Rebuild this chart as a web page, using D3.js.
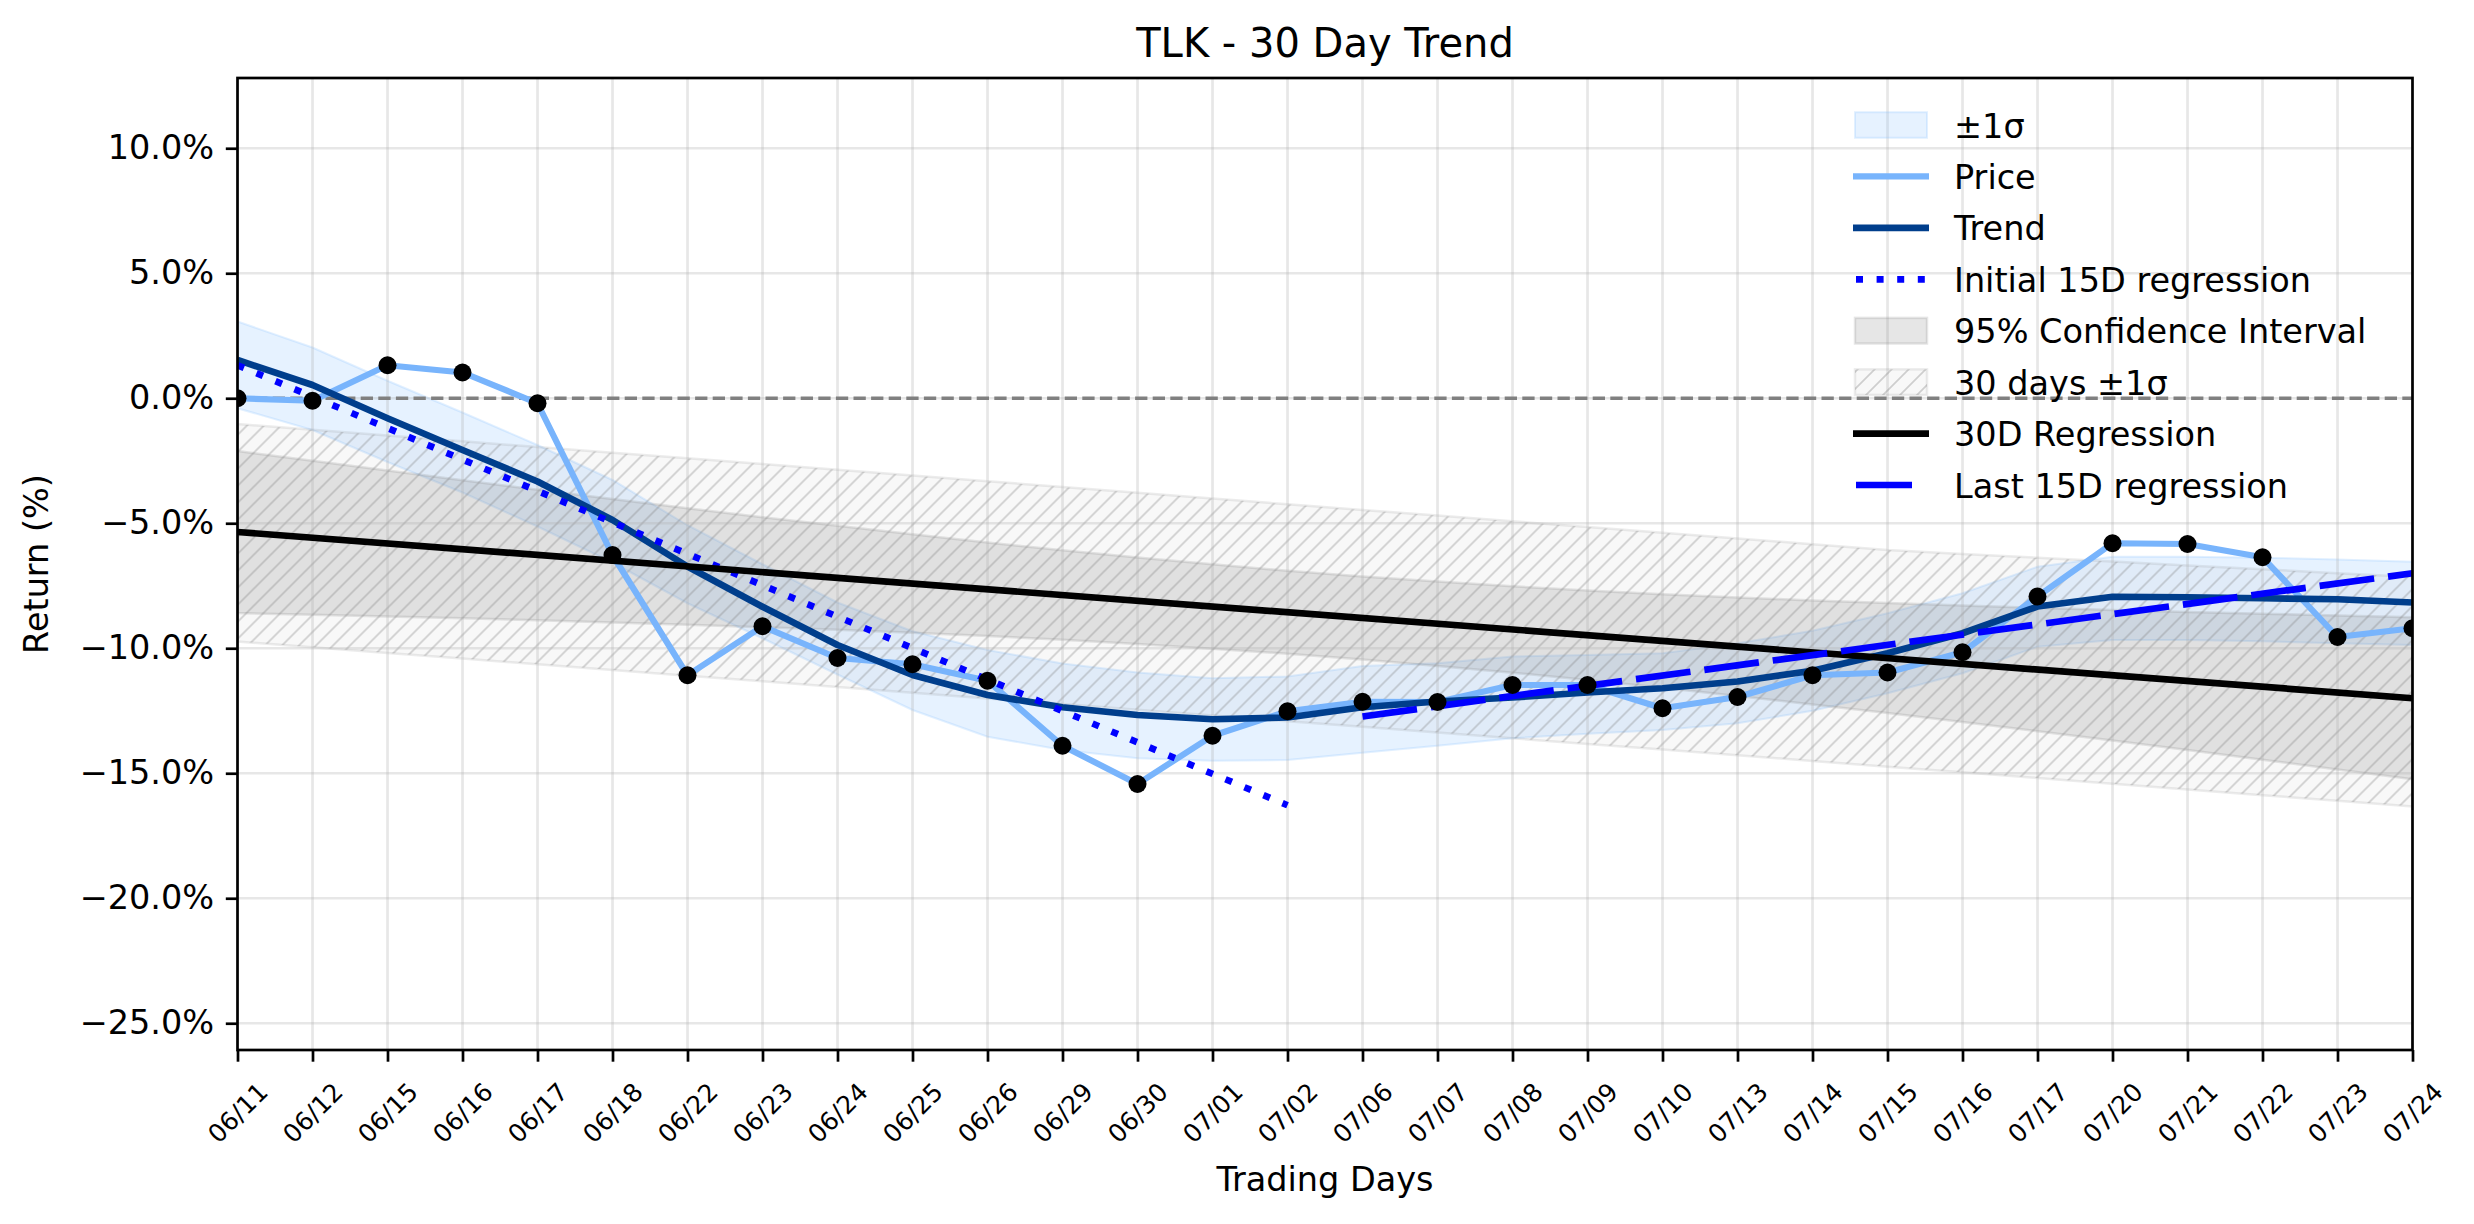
<!DOCTYPE html>
<html lang="en">
<head>
<meta charset="UTF-8">
<title>TLK - 30 Day Trend</title>
<script src="https://d3js.org/d3.v7.min.js"></script>
<style>
  body { margin: 0; background: #ffffff; }
  svg text { font-family: "DejaVu Sans", sans-serif; fill: #000; }
</style>
</head>
<body>
<div id="chart"></div>
<script>
// trading days (x axis)
var dates = ["06/11", "06/12", "06/15", "06/16", "06/17", "06/18", "06/22", "06/23", "06/24", "06/25",
             "06/26", "06/29", "06/30", "07/01", "07/02", "07/06", "07/07", "07/08", "07/09", "07/10",
             "07/13", "07/14", "07/15", "07/16", "07/17", "07/20", "07/21", "07/22", "07/23", "07/24"];

// cumulative return in %
var price = [0.0, -0.1, 1.32, 1.03, -0.2, -6.27, -11.08, -9.12, -10.39, -10.64,
             -11.3, -13.9, -15.43, -13.5, -12.52, -12.14, -12.15, -11.47, -11.47, -12.4,
             -11.95, -11.08, -10.97, -10.16, -7.93, -5.8, -5.83, -6.36, -9.55, -9.2];

var trend = [1.53, 0.53, -0.8, -2.07, -3.33, -4.87, -6.73, -8.34, -9.87, -11.07,
             -11.87, -12.36, -12.67, -12.84, -12.77, -12.36, -12.13, -11.97, -11.77, -11.6,
             -11.33, -10.9, -10.2, -9.4, -8.33, -7.94, -7.96, -8.0, -8.04, -8.17];

// +-1 sigma band around the trend
var sigmaUpper = [3.07, 2.03, 0.7, -0.57, -1.87, -3.27, -5.08, -6.64, -8.17, -9.32,
                  -10.07, -10.61, -10.97, -11.2, -11.13, -10.71, -10.6, -10.33, -10.27, -10.2,
                  -9.8, -9.3, -8.6, -7.8, -6.74, -6.34, -6.34, -6.38, -6.45, -6.54];
var sigmaLower = [-0.4, -1.27, -2.55, -3.77, -5.13, -6.57, -8.2, -9.6, -11.05, -12.47,
                  -13.54, -14.07, -14.4, -14.5, -14.47, -14.18, -13.9, -13.6, -13.42, -13.27,
                  -13.0, -12.5, -11.8, -11.0, -9.94, -9.67, -9.67, -9.72, -9.8, -9.87];

// 95% confidence interval of the 30D regression
var ciUpper = [-2.11, -2.5, -2.89, -3.28, -3.66, -4.03, -4.4, -4.76, -5.1, -5.44,
               -5.77, -6.08, -6.37, -6.64, -6.9, -7.13, -7.33, -7.52, -7.69, -7.84,
               -7.97, -8.09, -8.19, -8.29, -8.38, -8.47, -8.55, -8.62, -8.69, -8.76];
var ciLower = [-8.59, -8.66, -8.73, -8.8, -8.88, -8.97, -9.06, -9.16, -9.26, -9.38,
               -9.51, -9.66, -9.83, -10.02, -10.22, -10.45, -10.71, -10.98, -11.27, -11.58,
               -11.91, -12.25, -12.59, -12.95, -13.32, -13.69, -14.07, -14.46, -14.85, -15.24];

// 30 days +-1 sigma (hatched)
var band30Upper = [-1.03, -1.26, -1.49, -1.72, -1.95, -2.18, -2.4, -2.63, -2.86, -3.09,
                   -3.32, -3.55, -3.78, -4.01, -4.24, -4.47, -4.69, -4.92, -5.15, -5.38,
                   -5.61, -5.84, -6.07, -6.23, -6.38, -6.53, -6.69, -6.84, -7.0, -7.15];
var band30Lower = [-9.73, -9.96, -10.19, -10.41, -10.64, -10.87, -11.1, -11.32, -11.55, -11.78,
                   -12.01, -12.23, -12.46, -12.69, -12.92, -13.14, -13.37, -13.6, -13.83, -14.05,
                   -14.28, -14.51, -14.74, -14.96, -15.19, -15.42, -15.65, -15.88, -16.1, -16.33];

// straight regressions: [start, end]
var regression30 = [-5.35, -12.0];   // 06/11 -> 07/24
var initial15 = [1.32, -16.28];      // 06/11 -> 07/02
var last15 = [-12.73, -7.0];         // 07/06 -> 07/24

var yTicks = [-25, -20, -15, -10, -5, 0, 5, 10];

var priceColor = "#78b4fc",
    trendColor = "#003e8c",
    bandColor = "#8cc4ff";

var W = 2474, H = 1224;
var margin = {top: 78, right: 61.5, bottom: 174, left: 237.5},
    width = W - margin.left - margin.right,
    height = H - margin.top - margin.bottom;

var svg = d3.select("#chart").append("svg")
    .attr("width", W).attr("height", H);

var defs = svg.append("defs");
defs.append("clipPath").attr("id", "plotclip")
  .append("rect").attr("width", width).attr("height", height);
var hatch = defs.append("pattern").attr("id", "hatch")
    .attr("patternUnits", "userSpaceOnUse").attr("width", 17).attr("height", 17);
hatch.append("path")
    .attr("d", "M0,17 L17,0 M-4.25,4.25 L4.25,-4.25 M12.75,21.25 L21.25,12.75")
    .attr("stroke", "#808080").attr("stroke-opacity", 0.35).attr("stroke-width", 1.8);

var g = svg.append("g")
    .attr("transform", "translate(" + margin.left + "," + margin.top + ")");

var x = d3.scalePoint().domain(dates).range([0, width]);
var y = d3.scaleLinear().domain([-26.07, 12.81]).range([height, 0]);

var plot = g.append("g").attr("clip-path", "url(#plotclip)");

function band(up, lo) {
  return d3.area()
    .x(function(d, i) { return x(dates[i]); })
    .y0(function(d, i) { return y(lo[i]); })
    .y1(function(d, i) { return y(up[i]); })(dates);
}

// +-1 sigma
plot.append("path").attr("d", band(sigmaUpper, sigmaLower))
    .attr("fill", bandColor).attr("fill-opacity", 0.22)
    .attr("stroke", bandColor).attr("stroke-opacity", 0.25).attr("stroke-width", 2);
// 95% CI
plot.append("path").attr("d", band(ciUpper, ciLower))
    .attr("fill", "gray").attr("fill-opacity", 0.2)
    .attr("stroke", "gray").attr("stroke-opacity", 0.2).attr("stroke-width", 2.5);
// 30 days +-1 sigma, hatched
plot.append("path").attr("d", band(band30Upper, band30Lower))
    .attr("fill", "gray").attr("fill-opacity", 0.06);
plot.append("path").attr("d", band(band30Upper, band30Lower))
    .attr("fill", "url(#hatch)")
    .attr("stroke", "gray").attr("stroke-opacity", 0.15).attr("stroke-width", 2.5);

// grid
plot.append("g").selectAll("line").data(dates).enter().append("line")
    .attr("x1", function(d) { return x(d); }).attr("x2", function(d) { return x(d); })
    .attr("y1", 0).attr("y2", height)
    .attr("stroke", "#b0b0b0").attr("stroke-opacity", 0.3).attr("stroke-width", 2.7);
plot.append("g").selectAll("line").data(yTicks).enter().append("line")
    .attr("x1", 0).attr("x2", width)
    .attr("y1", function(d) { return y(d); }).attr("y2", function(d) { return y(d); })
    .attr("stroke", "#b0b0b0").attr("stroke-opacity", 0.3).attr("stroke-width", 2.7);

// zero line
plot.append("line").attr("x1", 0).attr("x2", width).attr("y1", y(0)).attr("y2", y(0))
    .attr("stroke", "#808080").attr("stroke-width", 3.3).attr("stroke-dasharray", "12.3,5.3");

var line = d3.line()
    .x(function(d, i) { return x(dates[i]); })
    .y(function(d) { return y(d); });

plot.append("path").attr("d", line(price)).attr("fill", "none")
    .attr("stroke", priceColor).attr("stroke-width", 6.2).attr("stroke-linejoin", "round");
plot.append("path").attr("d", line(trend)).attr("fill", "none")
    .attr("stroke", trendColor).attr("stroke-width", 6.7).attr("stroke-linejoin", "round");

function segment(vals, i0, i1) {
  return d3.line().x(function(d) { return x(d[0]); }).y(function(d) { return y(d[1]); })
    ([[dates[i0], vals[0]], [dates[i1], vals[1]]]);
}

plot.append("path").attr("d", segment(initial15, 0, 14)).attr("fill", "none")
    .attr("stroke", "#0000ff").attr("stroke-width", 6.7).attr("stroke-dasharray", "7,13.6");
plot.append("path").attr("d", segment(regression30, 0, dates.length - 1)).attr("fill", "none")
    .attr("stroke", "#000").attr("stroke-width", 6.7);
plot.append("path").attr("d", segment(last15, 15, dates.length - 1)).attr("fill", "none")
    .attr("stroke", "#0000ff").attr("stroke-width", 6.7).attr("stroke-dasharray", "55,14");

plot.append("g").selectAll("circle").data(price).enter().append("circle")
    .attr("cx", function(d, i) { return x(dates[i]); })
    .attr("cy", function(d) { return y(d); })
    .attr("r", 9).attr("fill", "#000");

// axes
var fmt = function(d) { return (d < 0 ? "\u2212" : "") + Math.abs(d).toFixed(1) + "%"; };

var yAxis = g.append("g")
    .call(d3.axisLeft(y).tickValues(yTicks).tickFormat(fmt).tickSize(11.7).tickPadding(11.7))
    .attr("font-family", "DejaVu Sans").attr("font-size", 33.5);
yAxis.select(".domain").remove();
yAxis.selectAll("line").attr("stroke", "#000").attr("stroke-width", 2.7);

var xAxis = g.append("g").attr("transform", "translate(0," + height + ")")
    .call(d3.axisBottom(x).tickSize(11.7))
    .attr("font-family", "DejaVu Sans").attr("font-size", 25);
xAxis.select(".domain").remove();
xAxis.selectAll("line").attr("stroke", "#000").attr("stroke-width", 2.7);
xAxis.selectAll("text")
    .attr("y", 0).attr("dy", null)
    .attr("dominant-baseline", "central")
    .attr("text-anchor", "middle")
    .attr("transform", "translate(0,63) rotate(-45)");

// spines
g.append("rect").attr("width", width).attr("height", height)
    .attr("fill", "none").attr("stroke", "#000").attr("stroke-width", 2.7);

// titles
svg.append("text").attr("x", margin.left + width / 2).attr("y", 57)
    .attr("text-anchor", "middle").attr("font-size", 40).text("TLK - 30 Day Trend");
svg.append("text").attr("x", margin.left + width / 2).attr("y", 1191)
    .attr("text-anchor", "middle").attr("font-size", 33.5).text("Trading Days");
svg.append("text").attr("transform", "translate(48," + (margin.top + height / 2) + ") rotate(-90)")
    .attr("text-anchor", "middle").attr("font-size", 33.5).text("Return (%)");

// legend
var legendItems = [
  {label: "\u00b11\u03c3", kind: "sigma"},
  {label: "Price", kind: "price"},
  {label: "Trend", kind: "trend"},
  {label: "Initial 15D regression", kind: "initial"},
  {label: "95% Confidence Interval", kind: "ci"},
  {label: "30 days \u00b11\u03c3", kind: "band30"},
  {label: "30D Regression", kind: "reg"},
  {label: "Last 15D regression", kind: "last"}
];
var lg = svg.append("g");
legendItems.forEach(function(item, k) {
  var cy = 125 + k * 51.43;
  var row = lg.append("g");
  if (item.kind === "sigma") {
    row.append("rect").attr("x", 1855).attr("y", cy - 12.8).attr("width", 72).attr("height", 25.6)
      .attr("fill", bandColor).attr("fill-opacity", 0.22)
      .attr("stroke", bandColor).attr("stroke-opacity", 0.25).attr("stroke-width", 2);
  } else if (item.kind === "ci") {
    row.append("rect").attr("x", 1855).attr("y", cy - 12.8).attr("width", 72).attr("height", 25.6)
      .attr("fill", "gray").attr("fill-opacity", 0.2)
      .attr("stroke", "gray").attr("stroke-opacity", 0.2).attr("stroke-width", 2.5);
  } else if (item.kind === "band30") {
    row.append("rect").attr("x", 1855).attr("y", cy - 12.8).attr("width", 72).attr("height", 25.6)
      .attr("fill", "gray").attr("fill-opacity", 0.06);
    row.append("rect").attr("x", 1855).attr("y", cy - 12.8).attr("width", 72).attr("height", 25.6)
      .attr("fill", "url(#hatch)")
      .attr("stroke", "gray").attr("stroke-opacity", 0.15).attr("stroke-width", 2.5);
  } else {
    var col = {price: priceColor, trend: trendColor, initial: "#0000ff", reg: "#000", last: "#0000ff"}[item.kind];
    var l = row.append("line").attr("y1", cy).attr("y2", cy)
      .attr("x1", 1853).attr("x2", 1929)
      .attr("stroke", col).attr("stroke-width", item.kind === "price" ? 6.2 : 6.7);
    if (item.kind === "initial") l.attr("x1", 1856).attr("stroke-dasharray", "7,13.6");
    if (item.kind === "last") l.attr("x1", 1856).attr("x2", 1912);
  }
  row.append("text").attr("x", 1954).attr("y", cy + 12.5)
    .attr("font-size", 33.5).text(item.label);
});
</script>
</body>
</html>
